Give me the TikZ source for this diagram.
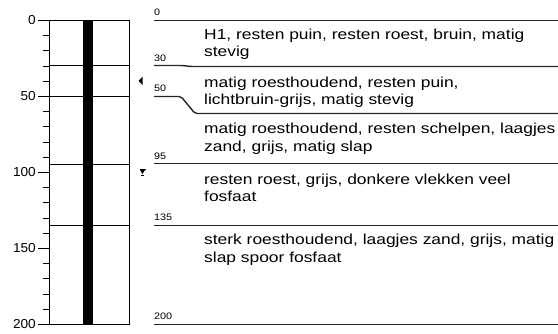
\documentclass[tikz,border=0pt]{standalone}
\usepackage{fontspec}
\setmainfont{Liberation Sans}
\newfontfamily\descfont{Liberation Sans}[FakeStretch=1.2]
\newfontfamily\depthfont{Liberation Sans}[FakeStretch=1.15]
\newfontfamily\scalefont{Liberation Sans}[FakeStretch=1.05]
\begin{document}
\begin{tikzpicture}[x=1pt,y=-1pt,
  desc/.style={anchor=base west,inner sep=0pt,font=\descfont\fontsize{14.5}{17}\selectfont},
  dlabel/.style={anchor=base west,inner sep=0pt,font=\depthfont\fontsize{9.4}{11}\selectfont},
  slabel/.style={anchor=east,inner sep=0pt,font=\scalefont\fontsize{13}{15}\selectfont},
  colline/.style={line width=1.2pt},
  tick/.style={line width=1pt},
  layline/.style={line width=1.4pt,black!85}]
\useasboundingbox (0,0) rectangle (558,334);
% column
\fill (83,20) rectangle (93,324);
\draw[colline] (49.5,20.5) rectangle (129.5,324.5);
\foreach \y in {65.5,96.5,164.5,225.5} {\draw[colline] (49.5,\y) -- (129.5,\y);}
% ticks
\foreach \d in {10,20,...,190} {\draw[tick] (43,{round(20+1.52*\d)+0.5}) -- (49.5,{round(20+1.52*\d)+0.5});}
\foreach \d in {0,50,100,150,200} {
  \draw[tick] (38,{round(20+1.52*\d)+0.5}) -- (49.5,{round(20+1.52*\d)+0.5});
  \node[slabel] (s\d) at (36,{20+1.52*\d}) {\d};}
% markers
\fill (138.5,81) -- (142.5,77) -- (142.5,85) -- cycle;
\draw[line width=0.9pt] (139.5,169.2) -- (145.5,169.2);
\fill (140,170) -- (145,170) -- (142.5,174) -- cycle;
\draw[line width=0.9pt] (141.3,175.8) -- (143.7,175.8);
% layer lines
\draw[layline] (154,20.5) -- (558,20.5);
\draw[layline] (154,65.5) -- (180,65.5) to[out=0,in=180] (193,66.5) -- (558,66.5);
\draw[layline,rounded corners=2pt] (154,96.5) -- (181,96.5) -- (195,113.5) -- (558,113.5);
\draw[layline] (154,163.5) -- (558,163.5);
\draw[layline] (154,225.5) -- (558,225.5);
\draw[layline] (154,324.5) -- (558,324.5);
% depth labels
\node[dlabel] (d0) at (154,16) {0};
\node[dlabel] (d30) at (154,61.5) {30};
\node[dlabel] (d50) at (154,92) {50};
\node[dlabel] (d95) at (154,159.5) {95};
\node[dlabel] (d135) at (154,221) {135};
\node[dlabel] (d200) at (154,320) {200};
% descriptions
\node[desc] (t1a) at (204,39.5) {H1, resten puin, resten roest, bruin, matig};
\node[desc] (t1b) at (204,56.7) {stevig};
\node[desc] (t2a) at (204,87.5) {matig roesthoudend, resten puin,};
\node[desc] (t2b) at (204,104.7) {lichtbruin-grijs, matig stevig};
\node[desc] (t3a) at (204,134) {matig roesthoudend, resten schelpen, laagjes};
\node[desc] (t3b) at (204,151.2) {zand, grijs, matig slap};
\node[desc] (t4a) at (204,184.5) {resten roest, grijs, donkere vlekken veel};
\node[desc] (t4b) at (204,201.7) {fosfaat};
\node[desc] (t5a) at (204,245) {sterk roesthoudend, laagjes zand, grijs, matig};
\node[desc] (t5b) at (204,262.2) {slap spoor fosfaat};
\end{tikzpicture}
\end{document}
